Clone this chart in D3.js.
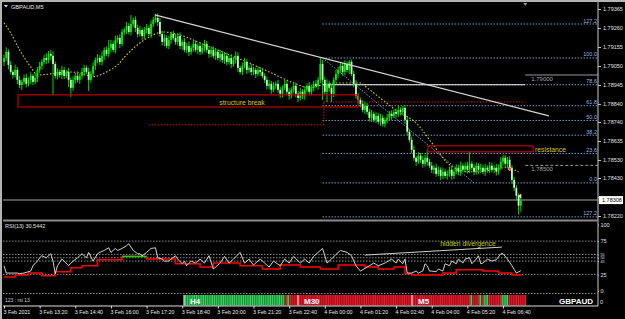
<!DOCTYPE html>
<html>
<head>
<meta charset="utf-8">
<script src="https://cdn.jsdelivr.net/npm/d3@7"></script>
<style>
  html, body { margin: 0; padding: 0; background: #000; }
  svg { display: block; font-family: "Liberation Sans", Arial, sans-serif; }
</style>
</head>
<body>
<svg id="chart" width="625" height="319"></svg>
<script>
// ---- data (prices in points above 1.78000, M5 bars from 3 Feb 12:00) ----
const firstOpen = 1072;
const closes = [
  1094,1128,1056,1017,1000,1028,973,945,962,984,
  951,973,995,962,984,1028,1050,1072,1094,1083,
  1117,1106,1061,995,1017,1000,1028,995,1017,973,
  929,973,995,973,995,1017,1039,1017,973,1006,
  1050,1083,1094,1072,1106,1139,1117,1150,1172,1139,
  1194,1205,1172,1238,1249,1271,1238,1282,1304,1260,
  1227,1249,1216,1249,1260,1227,1282,1304,1316,1293,
  1227,1183,1205,1161,1194,1227,1205,1183,1216,1161,
  1183,1139,1161,1128,1150,1172,1139,1161,1128,1150,
  1172,1139,1117,1139,1106,1128,1094,1117,1083,1106,
  1072,1094,1061,1083,1106,1039,1017,1050,1072,1028,
  1039,1017,1028,1006,1028,1017,995,973,940,951,
  918,940,951,918,896,929,951,907,885,918,
  940,896,873,907,885,918,940,907,929,951,
  940,973,1061,973,907,951,929,896,973,1006,
  1028,1050,1017,1061,1028,1072,1006,951,885,862,
  840,807,829,796,763,785,752,774,741,763,
  730,752,763,785,774,796,785,807,796,818,
  752,686,641,586,542,520,553,531,509,542,
  520,498,476,487,453,476,442,465,442,453,
  476,442,465,487,465,498,476,498,476,509,
  487,465,498,476,487,465,487,476,498,476,
  487,465,487,520,542,509,531,487,420,376,
  332,277,304
];
const wickUp = [
  18,25,14,22,11,29,16,22,13,18, 23,14,20,11,25,16,22,14,18,27,
  16,22,25,13,20,14,23,18,11,22, 14,20,16,25,13,22,18,14,23,16,
  20,13,22,16,25,14,18,44,22,16, 23,14,20,18,13,22,16,50,14,20,
  18,23,13,16,22,14,20,18,21,25, 22,16,20,14,23,13,18,22,16,20,
  14,22,18,25,13,16,20,14,22,18, 23,16,13,20,18,22,14,23,16,20,
  18,14,22,16,25,20,13,18,23,16, 14,22,18,13,20,16,23,14,18,22,
  16,20,14,22,18,13,23,16,20,14, 22,18,16,23,14,20,13,22,18,16,
  20,14,33,22,18,25,16,20,14,22, 18,23,16,20,14,11,13,18,22,16,
  14,20,23,16,18,22,13,20,16,23, 18,14,22,16,20,13,18,23,14,11,
  16,22,14,18,23,13,20,16,22,18, 44,16,20,14,22,18,13,23,16,20,
  18,22,14,20,16,23,13,18,22,66, 16,20,18,14,22,16,23,13,20,18,
  14,22,18,25,16,16,16,20,14,18, 16,13,22
];
const wickDown = [
  22,16,25,14,20,13,23,18,28,16, 20,14,22,18,13,23,16,20,14,22,
  18,23,171,16,20,14,22,18,13,40, 50,16,20,14,22,18,23,13,61,16,
  14,22,18,16,20,23,13,18,22,14, 20,16,23,14,18,22,13,20,16,23,
  18,14,22,16,20,13,23,18,14,22, 16,20,23,14,18,22,13,16,20,18,
  22,14,18,23,16,20,13,22,18,14, 20,16,22,18,14,23,13,20,16,22,
  18,14,23,16,20,22,13,18,14,22, 16,20,18,23,14,22,13,16,20,18,
  22,14,18,16,23,20,13,18,22,14, 16,20,23,14,18,22,13,16,20,18,
  14,22,18,111,16,56,20,45,18,14, 22,16,20,18,14,23,13,20,16,22,
  18,14,22,16,20,23,13,18,14,22, 16,20,18,14,22,13,23,16,20,18,
  22,18,14,20,16,23,13,18,22,16, 20,14,18,22,16,13,23,18,14,20,
  16,22,18,14,20,23,13,16,22,18, 14,20,16,22,18,13,23,16,20,14,
  18,22,16,14,20,18,23,16,22,18, 25,50,34
];

// yellow moving average, read at sparse bars
const maBars   = [0,3,7,12,15,21,28,34,40,46,51,55,61,67,71,79,88,99,109,119,130,137,143,149,155,160,163,170,177,185,192,199,204,210,216,225,231];
const maPoints = [1288,1233,1139,1045,1000,1006,1017,1012,990,1017,1056,1111,1177,1222,1238,1222,1177,1122,1072,1017,956,929,945,956,956,956,929,862,796,735,625,514,476,465,470,487,465];

// RSI(13)
const rsiBars = [0,1,4,6,7,9,12,13,15,16,17,19,21,22,23,24,26,27,29,30,33,34,35,37,38,40,42,43,45,47,48,50,51,53,55,56,58,60,61,62,64,66,68,69,71,72,74,75,77,78,80,81,82,84,86,88,90,92,94,97,99,101,103,106,108,110,112,115,117,119,121,124,126,128,130,133,135,137,139,141,143,145,147,149,151,154,156,158,160,163,166,168,171,174,176,177,179,180,181,183,185,186,188,189,190,191,192,194,195,197,198,200,201,203,204,206,207,209,210,212,213,214,215,217,219,221,223,224,226,228,230,232];
const rsiValues = [38,27,27,27,26,27,30,38,45,50,53,50,56,45,26,38,48,45,38,42,50,53,56,50,58,45,56,58,61,65,58,64,61,64,68,71,61,56,56,53,58,64,65,50,48,45,45,48,53,48,41,45,38,45,42,48,42,53,33,42,52,42,48,58,42,48,39,48,42,36,45,38,48,42,52,42,48,42,52,58,64,42,48,55,61,58,53,38,30,36,42,38,42,48,42,48,41,48,27,27,30,27,30,41,38,30,30,29,33,30,41,38,45,41,48,42,48,50,41,48,53,41,42,48,45,47,56,56,48,38,27,30.5];
const rsiLast = "30.5442";

// red stepped signal under the RSI
const stepStarts = [0,5,11,17,23,30,35,42,53,64,77,88,94,106,116,124,133,142,150,162,168,175,180,183,197,203,215,222,228];
const stepValues = [21,24,27,23,29,35,38,47,52,48,41,36,42,38,33,39,36,33,39,36,33,36,26,24,27,32,30,27,24];
const stepEnd = 232.5;
const greenStep = 8;

const rsiLevels = [75, 55, 50, 45, 25];
const rsiTicks = [100, 75, 55, 50, 45, 25, 0];

// fibonacci retracement
const fibHigh = 1.79094, fibLow = 1.78403;
const fibStartBar = 143, fibEndBar = 211;
const fibRatios = [1.272, 1, 0.786, 0.618, 0.5, 0.382, 0.236, 0, -0.272];
const fibLabels = ["127.2", "100.0", "78.6", "61.8", "50.0", "38.2", "23.6", "0.0", "127.2"];

// price axis
const priceTicks = [1.79365, 1.79260, 1.79155, 1.79050, 1.78945, 1.78840, 1.78740, 1.78635, 1.78530, 1.78430, 1.78325, 1.78220];
const lastPrice = 1.78308;

// time axis
const timeBars = [0,16,32,48,64,80,96,112,128,144,160,176,192,208,224];
const timeLabels = ["3 Feb 2021","3 Feb 13:20","3 Feb 14:40","3 Feb 16:00","3 Feb 17:20","3 Feb 18:40","3 Feb 20:00","3 Feb 21:20","3 Feb 22:40","4 Feb 00:00","4 Feb 01:20","4 Feb 02:40","4 Feb 04:00","4 Feb 05:20","4 Feb 06:40"];

// drawn objects
const trendFrom = [67.7, 1332], trendTo = [244.6, 774];
const structureBox = {from: 6.3, to: 159, top: 890, bottom: 823};
const resistanceBox = {from: 190.3, to: 237.5, top: 608, bottom: 575};
const breakLevel = 851, lowLevel = 724, lowFromBar = 65, breakBar = 143.6, rayEnd = 234;
const hLevels = [{price: 1.79000, dashed: false}, {price: 1.78500, dashed: true}];
const divFrom = [162, 54], divTo = [223.5, 66];

// timeframe strip (candle direction per cell)
const h4Strip  = ["gggggggggg","gggggggggg","gggggggggg","gggggggggg","ggggg","rgrrrr"].join("");
const m30Strip = ["rrrrrrrrrr","rrrrrrrrrr","rrrrrrrrrr","rrrrrrrrrr","rrrrrrrrrr","r"].join("");
const m5Strip  = ["rrrrrrrrrr","rrrrrrrrrr","rrrrrr","g","rrr","g","r","gg","rrrrrr","ggg","rrrrrrrr"].join("");

// ---- layout ----
const W = 625, H = 319;
const plotL = 3, plotR = 598, mainT = 3, mainB = 220, rsiT = 222, rsiB = 292;
const font = "Liberation Sans, Arial, sans-serif";
const pr = p => 1.78 + p / 1e5;

const x = d3.scaleLinear().domain([0, 224]).range([4, 503]);
const y = d3.scaleLinear().domain([1.78220, 1.79365]).range([216, 9]);
const yr = d3.scaleLinear().domain([0, 100]).range([291, 224.5]);

const svg = d3.select("#chart");
svg.append("rect").attr("width", W).attr("height", H).attr("fill", "#000");

const defs = svg.append("defs");
defs.append("clipPath").attr("id", "clipMain").append("rect")
  .attr("x", plotL).attr("y", mainT).attr("width", plotR - plotL).attr("height", mainB - mainT);
defs.append("clipPath").attr("id", "clipRsi").append("rect")
  .attr("x", plotL).attr("y", rsiT).attr("width", plotR - plotL).attr("height", rsiB - rsiT);

// window frame
svg.append("path").attr("d", "M1,319V1H625").attr("fill", "none")
  .attr("stroke", "#b4b4b4").attr("stroke-width", 2);

const main = svg.append("g").attr("clip-path", "url(#clipMain)");

// fibo levels
fibRatios.forEach((r, k) => {
  const p = fibLow + (fibHigh - fibLow) * r;
  main.append("line")
    .attr("x1", x(fibStartBar)).attr("x2", plotR)
    .attr("y1", y(p)).attr("y2", y(p))
    .attr("stroke", "#6b9fd0").attr("stroke-width", 1).attr("stroke-dasharray", "1.5,1.5");
  main.append("text")
    .attr("x", plotR - 1).attr("y", y(p) - 1.5)
    .attr("text-anchor", "end").attr("fill", "#8cb8e6")
    .attr("font-size", 5.5).attr("font-family", font)
    .text(fibLabels[k]);
});
main.append("line")
  .attr("x1", x(fibStartBar)).attr("y1", y(fibHigh))
  .attr("x2", x(fibEndBar)).attr("y2", y(fibLow))
  .attr("stroke", "#6b9fd0").attr("stroke-dasharray", "1.5,1.5");

// white level line on 78.6
main.append("line")
  .attr("x1", x(fibStartBar)).attr("x2", x(rayEnd))
  .attr("y1", y(fibLow + (fibHigh - fibLow) * 0.786)).attr("y2", y(fibLow + (fibHigh - fibLow) * 0.786))
  .attr("stroke", "#f0f0f0").attr("stroke-width", 1.2);

// horizontal price lines with labels
hLevels.forEach(d => {
  main.append("line")
    .attr("x1", x(rayEnd)).attr("x2", plotR)
    .attr("y1", y(d.price)).attr("y2", y(d.price))
    .attr("stroke", "#9a9a9a").attr("stroke-dasharray", d.dashed ? "3,2" : null);
  main.append("text")
    .attr("x", x(rayEnd) + 6).attr("y", y(d.price) + 6)
    .attr("fill", "#a8a8a8").attr("font-size", 6).attr("font-family", font)
    .text(d.price.toFixed(5));
});

// red structure lines
main.append("line")
  .attr("x1", x(lowFromBar)).attr("x2", x(breakBar))
  .attr("y1", y(pr(lowLevel))).attr("y2", y(pr(lowLevel)))
  .attr("stroke", "#d01010").attr("stroke-dasharray", "1.5,1.5");
main.append("line")
  .attr("x1", x(breakBar)).attr("x2", x(breakBar))
  .attr("y1", y(pr(lowLevel))).attr("y2", y(pr(breakLevel)))
  .attr("stroke", "#d01010").attr("stroke-dasharray", "1.5,1.5");
main.append("line")
  .attr("x1", x(breakBar)).attr("x2", x(rayEnd))
  .attr("y1", y(pr(breakLevel))).attr("y2", y(pr(breakLevel)))
  .attr("stroke", "#d01010").attr("stroke-dasharray", "1.5,1.5");

// current price line
main.append("line")
  .attr("x1", plotL).attr("x2", plotR)
  .attr("y1", y(lastPrice)).attr("y2", y(lastPrice))
  .attr("stroke", "#707070").attr("stroke-width", 1.5);

// moving average
main.append("path")
  .datum(maBars.map((b, k) => [b, maPoints[k]]))
  .attr("fill", "none").attr("stroke", "#e0c800").attr("stroke-width", 1.1)
  .attr("stroke-dasharray", "1.6,1.8")
  .attr("d", d3.line().x(d => x(d[0])).y(d => y(pr(d[1]))).curve(d3.curveMonotoneX));

// candles
const candles = closes.map((c, i) => {
  const o = i ? closes[i - 1] : firstOpen;
  return {i, o: pr(o), c: pr(c), h: pr(Math.max(o, c) + wickUp[i]), l: pr(Math.min(o, c) - wickDown[i])};
});
const cg = main.append("g");
cg.selectAll("line.wick").data(candles).join("line")
  .attr("class", "wick")
  .attr("x1", d => x(d.i)).attr("x2", d => x(d.i))
  .attr("y1", d => y(d.h)).attr("y2", d => y(d.l))
  .attr("stroke", "#00d800").attr("stroke-width", 1);
cg.selectAll("rect.body").data(candles).join("rect")
  .attr("class", "body")
  .attr("x", d => x(d.i) - 0.9).attr("width", 1.8)
  .attr("y", d => y(Math.max(d.o, d.c)))
  .attr("height", d => Math.max(0.7, Math.abs(y(d.o) - y(d.c))))
  .attr("fill", d => d.c >= d.o ? "#00f000" : "#c0f8c0");

// boxes
main.append("rect")
  .attr("x", x(structureBox.from)).attr("y", y(pr(structureBox.top)))
  .attr("width", x(structureBox.to) - x(structureBox.from))
  .attr("height", y(pr(structureBox.bottom)) - y(pr(structureBox.top)))
  .attr("fill", "none").attr("stroke", "#c00000").attr("stroke-width", 1.2);
main.append("text")
  .attr("x", 242).attr("y", y(pr(structureBox.bottom)) - 2)
  .attr("text-anchor", "middle").attr("fill", "#d8c21a")
  .attr("font-size", 6.8).attr("font-family", font).text("structure break");
main.append("rect")
  .attr("x", x(resistanceBox.from)).attr("y", y(pr(resistanceBox.top)))
  .attr("width", x(resistanceBox.to) - x(resistanceBox.from))
  .attr("height", y(pr(resistanceBox.bottom)) - y(pr(resistanceBox.top)))
  .attr("fill", "none").attr("stroke", "#c00000").attr("stroke-width", 1.2);
main.append("text")
  .attr("x", x(resistanceBox.to) + 2).attr("y", y(pr(resistanceBox.bottom)))
  .attr("fill", "#d8c21a").attr("font-size", 6.8).attr("font-family", font).text("resistance");

// trend line
main.append("line")
  .attr("x1", x(trendFrom[0])).attr("y1", y(pr(trendFrom[1])))
  .attr("x2", x(trendTo[0])).attr("y2", y(pr(trendTo[1])))
  .attr("stroke", "#d4d4d4").attr("stroke-width", 1.3);

// small markers on last bars
main.append("circle").attr("cx", x(227)).attr("cy", y(pr(481))).attr("r", 1.6)
  .attr("fill", "#ff3030").attr("stroke", "#ffffff").attr("stroke-width", 0.5);
main.append("path")
  .attr("d", `M${x(232) - 3},${y(pr(330))}l3.5,-2.5v5z`)
  .attr("fill", "#f0e090");

// chart shift marker
svg.append("path").attr("d", `M${x(rayEnd) - 2},3h4l-2,3z`).attr("fill", "#9090a0");

// panel borders
svg.append("line").attr("x1", plotR).attr("x2", plotR).attr("y1", 2).attr("y2", 306)
  .attr("stroke", "#c8c8c8");
svg.append("line").attr("x1", plotL).attr("x2", plotR).attr("y1", mainB + 0.5).attr("y2", mainB + 0.5)
  .attr("stroke", "#8a8a8a").attr("stroke-width", 2);

// price axis (the 1.78325 label sits under the last-price box)
const pAxis = svg.append("g").attr("transform", `translate(${plotR},0)`)
  .call(d3.axisRight(y).tickValues(priceTicks)
    .tickFormat(d => Math.abs(y(d) - y(lastPrice)) < 5 ? "" : d3.format(".5f")(d))
    .tickSize(3).tickPadding(2));
pAxis.select(".domain").remove();
pAxis.selectAll("line").attr("stroke", "#c8c8c8");
pAxis.attr("font-size", 5.5).attr("font-family", font);
pAxis.selectAll("text").attr("fill", "#e0e0e0");

svg.append("rect").attr("x", plotR + 1).attr("y", y(lastPrice) - 4).attr("width", 24).attr("height", 8)
  .attr("fill", "#ffffff");
svg.append("text").attr("x", plotR + 4).attr("y", y(lastPrice) + 2)
  .attr("fill", "#000").attr("font-size", 5.5).attr("font-family", font).text(lastPrice.toFixed(5));

// title
svg.append("path").attr("d", "M4,5h4l-2,2.5z").attr("fill", "#e0e0e0");
svg.append("text").attr("x", 11).attr("y", 8.5).attr("fill", "#e8e8e8")
  .attr("font-size", 5.6).attr("font-family", font).text("GBPAUD,M5");

// ---- RSI panel ----
const rsi = svg.append("g").attr("clip-path", "url(#clipRsi)");
rsiLevels.forEach(v => {
  rsi.append("line").attr("x1", plotL).attr("x2", plotR)
    .attr("y1", yr(v)).attr("y2", yr(v))
    .attr("stroke", "#8a8a8a").attr("stroke-dasharray", "1.5,1.5");
});

const stepPts = stepStarts.map((b, k) => [b, stepValues[k]]);
stepPts.push([stepEnd, stepValues[stepValues.length - 1]]);
const stepLine = d3.line().x(d => x(d[0])).y(d => yr(d[1])).curve(d3.curveStepAfter);
rsi.append("path").datum(stepPts)
  .attr("fill", "none").attr("stroke", "#ff0000").attr("stroke-width", 1.5)
  .attr("d", stepLine);
rsi.append("path")
  .datum([[stepStarts[greenStep], stepValues[greenStep]], [stepStarts[greenStep + 1], stepValues[greenStep]]])
  .attr("fill", "none").attr("stroke", "#00e000").attr("stroke-width", 1.5)
  .attr("d", d3.line().x(d => x(d[0])).y(d => yr(d[1])));

rsi.append("path")
  .datum(rsiBars.map((b, k) => [b, rsiValues[k]]))
  .attr("fill", "none").attr("stroke", "#e6e6e6").attr("stroke-width", 0.9)
  .attr("d", d3.line().x(d => x(d[0])).y(d => yr(d[1])));

rsi.append("line")
  .attr("x1", x(divFrom[0])).attr("y1", yr(divFrom[1]))
  .attr("x2", x(divTo[0])).attr("y2", yr(divTo[1]))
  .attr("stroke", "#d0d0d0").attr("stroke-width", 1);
rsi.append("text").attr("x", 468).attr("y", 245.5).attr("text-anchor", "middle")
  .attr("fill", "#c4cc10").attr("font-size", 6.8).attr("font-family", font).text("hidden divergence");

svg.append("text").attr("x", 5).attr("y", 228).attr("fill", "#e0e0e0")
  .attr("font-size", 5.5).attr("font-family", font).text("RSI(13) " + rsiLast);

const rAxis = svg.append("g").attr("transform", `translate(${plotR},0)`)
  .call(d3.axisRight(yr).tickValues(rsiTicks).tickFormat(d3.format("d")).tickSize(1).tickPadding(1.5));
rAxis.select(".domain").remove();
rAxis.selectAll("line").attr("stroke", "#c8c8c8");
rAxis.attr("font-size", 5.5).attr("font-family", font);
rAxis.selectAll("text").attr("fill", "#e0e0e0");
// the three close middle levels are drawn smaller so they stack like the reference
rAxis.selectAll(".tick").filter(d => d === 55 || d === 50 || d === 45)
  .select("text").attr("font-size", 3.6);

svg.append("line").attr("x1", plotL).attr("x2", plotR).attr("y1", 293.5).attr("y2", 293.5)
  .attr("stroke", "#8a8a8a").attr("stroke-dasharray", "1.5,1.5");

// ---- bottom info bar ----
svg.append("text").attr("x", 5).attr("y", 302).attr("fill", "#d0d0d0")
  .attr("font-size", 5).attr("font-family", font).text("123 : rsi 13");

const strips = [{label: "H4", cells: h4Strip, x0: 184}, {label: "M30", cells: m30Strip, x0: 298}, {label: "M5", cells: m5Strip, x0: 412}];
const blockW = 114, stripT = 295, stripH = 10.5;
strips.forEach(s => {
  const cw = blockW / s.cells.length;
  const g = svg.append("g");
  g.selectAll("rect").data(s.cells.split("")).join("rect")
    .attr("x", (d, k) => s.x0 + k * cw).attr("y", stripT)
    .attr("width", cw).attr("height", stripH)
    .attr("fill", d => d === "g" ? "#3ed264" : "#e81c2c");
  g.selectAll("line").data(s.cells.split("")).join("line")
    .attr("x1", (d, k) => s.x0 + k * cw + 0.4).attr("x2", (d, k) => s.x0 + k * cw + 0.4)
    .attr("y1", stripT).attr("y2", stripT + stripH)
    .attr("stroke", d => d === "g" ? "#0e8a2e" : "#9a0c18").attr("stroke-width", 0.8);
  svg.append("line").attr("x1", s.x0).attr("x2", s.x0).attr("y1", stripT).attr("y2", stripT + stripH)
    .attr("stroke", "#ffffff");
  svg.append("text").attr("x", s.x0 + 6).attr("y", stripT + 8.5).attr("fill", "#ffffff")
    .attr("font-weight", "bold").attr("font-size", 8).attr("font-family", font).text(s.label);
});
svg.append("text").attr("x", 593).attr("y", stripT + 8.5).attr("text-anchor", "end").attr("fill", "#ffffff")
  .attr("font-weight", "bold").attr("font-size", 8).attr("font-family", font).text("GBPAUD");
svg.append("text").attr("x", 600).attr("y", 304).attr("fill", "#e0e0e0")
  .attr("font-size", 5.5).attr("font-family", font).text("0");

// ---- time axis ----
const tAxis = svg.append("g").attr("transform", "translate(0,306)")
  .call(d3.axisBottom(x).tickValues(timeBars).tickFormat((d, k) => timeLabels[k]).tickSize(2.5).tickPadding(2));
tAxis.select(".domain").remove();
tAxis.selectAll("line").attr("stroke", "#e0e0e0");
tAxis.attr("font-size", 5.3).attr("font-family", font);
tAxis.selectAll("text").attr("fill", "#e8e8e8").attr("text-anchor", "start").attr("x", -1);
svg.append("line").attr("x1", plotL).attr("x2", plotR).attr("y1", 306).attr("y2", 306)
  .attr("stroke", "#e0e0e0");
</script>
</body>
</html>
